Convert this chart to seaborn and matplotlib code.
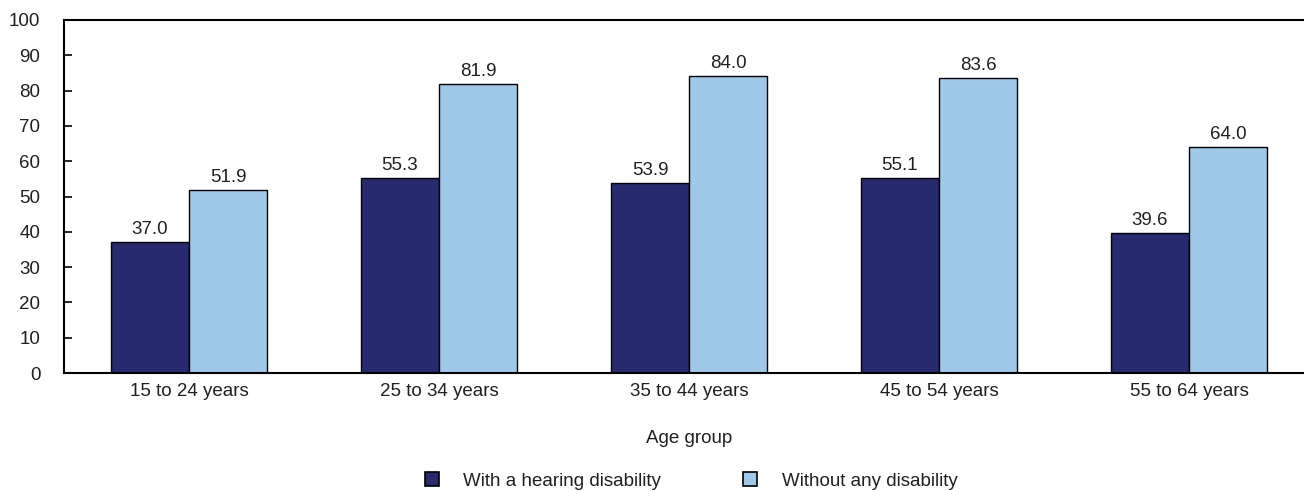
import matplotlib
matplotlib.use("Agg")
import matplotlib.pyplot as plt
from matplotlib.lines import Line2D
import seaborn as sns
import pandas as pd

# Employment rate by age group, with and without a hearing disability
age_groups = ["15 to 24 years", "25 to 34 years", "35 to 44 years", "45 to 54 years", "55 to 64 years"]
hearing = [37.0, 55.3, 53.9, 55.1, 39.6]
no_disability = [51.9, 81.9, 84.0, 83.6, 64.0]
series_names = ["With a hearing disability", "Without any disability"]
y_ticks = [0, 10, 20, 30, 40, 50, 60, 70, 80, 90, 100]

colors = ["#282a70", "#9fc9e9"]
text_color = "#231f20"
fs = 13.5

df = pd.DataFrame({
    "Age group": age_groups * 2,
    "value": hearing + no_disability,
    "series": [series_names[0]] * len(age_groups) + [series_names[1]] * len(age_groups),
})

sns.set_theme(style="white")
plt.rcParams["font.family"] = ["Liberation Sans", "DejaVu Sans"]
plt.rcParams["text.color"] = text_color

fig = plt.figure(figsize=(13.04, 4.91), dpi=100)
ax = fig.add_axes([64 / 1304, 118 / 491, 1250 / 1304, 353 / 491])

sns.barplot(data=df, x="Age group", y="value", hue="series", hue_order=series_names,
            palette=colors, width=0.624, gap=0, edgecolor="black", linewidth=1.0,
            saturation=1, legend=False, ax=ax)

for cont in ax.containers:
    ax.bar_label(cont, fmt="%.1f", padding=3, fontsize=fs, color=text_color)

ax.set_xlim(-0.5, 4.5)
ax.set_ylim(0, 100)
ax.set_yticks(y_ticks)
ax.set_ylabel("")
ax.set_xlabel("Age group", fontsize=fs, color=text_color, labelpad=22)

ax.tick_params(axis="y", direction="in", length=6, width=1.2, color="black",
               labelsize=fs, pad=17, labelcolor=text_color, left=True)
ax.tick_params(axis="x", length=0, labelsize=fs, pad=7, labelcolor=text_color)

for side in ["left", "top", "bottom"]:
    ax.spines[side].set_visible(True)
    ax.spines[side].set_color("black")
    ax.spines[side].set_linewidth(1.5)
ax.spines["right"].set_visible(False)

handles = [Line2D([0], [0], marker="s", linestyle="none", markersize=9.5,
                  markerfacecolor=c, markeredgecolor="black", markeredgewidth=1.2)
           for c in colors]
fig.legend(handles, series_names, loc="center", bbox_to_anchor=(690 / 1304, 1 - 481 / 491),
           ncol=2, frameon=False, fontsize=fs, handlelength=1.0, handletextpad=1.17,
           columnspacing=4.27, borderpad=0, borderaxespad=0)

fig.savefig("out.png", dpi=100)
